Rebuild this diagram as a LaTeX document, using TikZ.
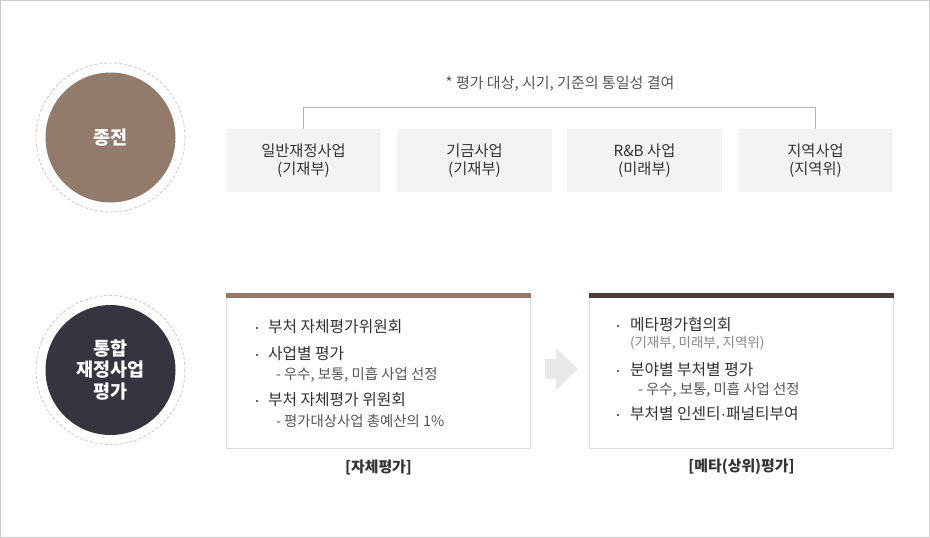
\documentclass[tikz,border=0pt]{standalone}
\usepackage{fontspec}
\setmainfont{Noto Sans CJK KR}
\newfontfamily\latinfont{Liberation Sans}
\begin{document}
\begin{tikzpicture}[x=1pt,y=-1pt,
  every node/.style={inner sep=0pt, outer sep=0pt},
  frame/.style={draw=framegray, line width=1pt},
  ring/.style={draw=ringgray, dashed, dash pattern=on 3pt off 2pt, line width=0.8pt},
  topbox/.style={fill=boxfill, minimum width=155pt, minimum height=63pt, align=center, font=\fontsize{15.3}{18}\selectfont, text=txt},
  bracket/.style={draw=linegray, line width=1pt},
  panel/.style={draw=panelgray, line width=0.8pt, fill=white},
  main/.style={anchor=west, font=\fontsize{15.8}{18}\selectfont, text=txt},
  sub/.style={anchor=west, font=\fontsize{14.4}{16}\selectfont, text=subtxt},
  note/.style={anchor=west, font=\fontsize{13.5}{15}\selectfont, text=notetxt},
  bul/.style={fill=txt},
  caption/.style={font=\bfseries\fontsize{14.9}{17}\selectfont, text=txt},
  circtext/.style={font=\bfseries\fontsize{18.5}{21.5}\selectfont, text=white, align=center}
]
\definecolor{framegray}{HTML}{CCCCCC}
\definecolor{ringgray}{HTML}{C8C8C8}
\definecolor{boxfill}{HTML}{F4F3F3}
\definecolor{linegray}{HTML}{B5B5B5}
\definecolor{panelgray}{HTML}{DDDDDD}
\definecolor{txt}{HTML}{333333}
\definecolor{subtxt}{HTML}{555555}
\definecolor{notetxt}{HTML}{888888}
\definecolor{brownc}{HTML}{937B6C}
\definecolor{darkc}{HTML}{35343F}
\definecolor{barA}{HTML}{957868}
\definecolor{barB}{HTML}{4B3B3B}
\definecolor{arrowgray}{HTML}{E8E8E8}

\useasboundingbox (0,0) rectangle (930,538);
\draw[frame] (0.5,0.5) rectangle (929.5,537.5);

% circles
\coordinate (c1) at (110.5,137.5);
\coordinate (c2) at (110.5,370);
\draw[ring] (c1) circle[radius=74.5];
\fill[brownc] (c1) circle[radius=65];
\node[circtext] (t1) at (c1) {종전};
\draw[ring] (c2) circle[radius=74.5];
\fill[darkc] (c2) circle[radius=65];
\node[circtext] (t2) at (c2) {통합\\재정사업\\평가};

% top boxes
\node[topbox] (b1) at (303.5,160.5) {일반재정사업\\(기재부)};
\node[topbox] (b2) at (474.5,160.5) {기금사업\\(기재부)};
\node[topbox] (b3) at (644.5,160.5) {R\&B 사업\\(미래부)};
\node[topbox] (b4) at (815.5,160.5) {지역사업\\(지역위)};
\draw[bracket] (b1.north) -- ++(0,-22) -| (b4.north);
\node[font=\fontsize{15}{17}\selectfont, text=subtxt] (n1) at (560,84) {* 평가 대상, 시기, 기준의 통일성 결여};

% bottom panels
\draw[panel] (226.5,293) rectangle (530.5,448);
\fill[barA] (226,293) rectangle (531,298);
\draw[panel] (589.5,293) rectangle (893.5,448);
\fill[barB] (589,293) rectangle (894,298);

% panel A text
\fill[bul] (257,328) circle[radius=1.2];
\node[main] (a1) at (268,327) {부처 자체평가위원회};
\fill[bul] (257,355) circle[radius=1.2];
\node[main] (a2) at (268,354) {사업별 평가};
\node[sub] (a3) at (276,375) {- 우수, 보통, 미흡 사업 선정};
\fill[bul] (257,401) circle[radius=1.2];
\node[main] (a4) at (268,400) {부처 자체평가 위원회};
\node[sub] (a5) at (276,421) {- 평가대상사업 총예산의 1\%};
\node[caption] (ca) at (378.5,467) {[자체평가]};

% panel B text
\fill[bul] (618,326) circle[radius=1.2];
\node[main] (m1) at (630,325) {메타평가협의회};
\node[note] (m2) at (630,343) {(기재부, 미래부, 지역위)};
\fill[bul] (618,371) circle[radius=1.2];
\node[main] (m3) at (630,370) {분야별 부처별 평가};
\node[sub] (m4) at (638,390) {- 우수, 보통, 미흡 사업 선정};
\fill[bul] (618,415) circle[radius=1.2];
\node[main] (m5) at (630,414) {부처별 인센티{\latinfont ·}패널티부여};
\node[caption] (cb) at (741.5,467) {[메타(상위)평가]};

% arrow
\coordinate (ar) at (545,369);
\fill[arrowgray] (ar) ++(0,-10) -- ++(11,0) -- ++(0,-11) -- ++(22,21) -- ++(-22,21) -- ++(0,-11) -- ++(-11,0) -- cycle;
\end{tikzpicture}
\end{document}
